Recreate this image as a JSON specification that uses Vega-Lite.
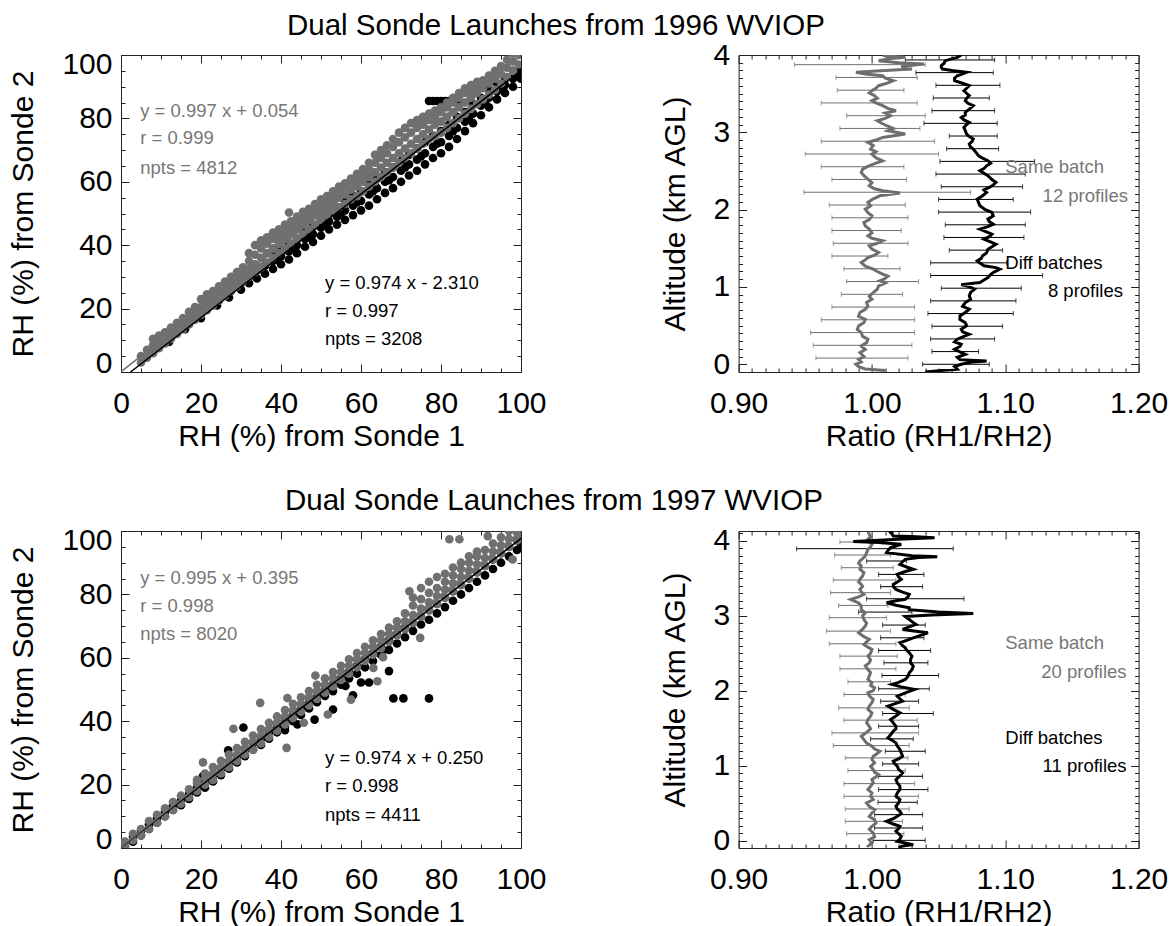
{
"$schema": "https://vega.github.io/schema/vega-lite/v6.json",
"background": "white",
"padding": {"left": 8, "top": 10, "right": 5, "bottom": 2},
"config": {
  "font": "Liberation Sans",
  "view": {"stroke": "#222222", "strokeWidth": 1},
  "axis": {"domain": false, "grid": false, "tickColor": "#222222", "tickWidth": 1, "labelFontSize": 30, "titleFontSize": 30, "titleFontWeight": "normal", "labelColor": "#000000", "titleColor": "#000000", "labelOverlap": false, "labelFlush": false, "labelBound": false},
  "title": {"fontSize": 29.5, "fontWeight": "normal", "color": "#000000"}
},
"datasets": {
"d96": [
{"rh1":8,"rh2":6},{"rh1":8,"rh2":7.5},{"rh1":12,"rh2":9.5},{"rh1":12,"rh2":11},{"rh1":16,"rh2":13.5},{"rh1":16,"rh2":15},{"rh1":20,"rh2":17},{"rh1":20,"rh2":18.5},{"rh1":24,"rh2":21},{"rh1":24,"rh2":22.5},{"rh1":27,"rh2":23.5},{"rh1":27,"rh2":25.5},{"rh1":30,"rh2":26},{"rh1":30,"rh2":28.5},{"rh1":32,"rh2":28},{"rh1":32,"rh2":30},{"rh1":34,"rh2":29.5},{"rh1":34,"rh2":32},{"rh1":36,"rh2":31},{"rh1":36,"rh2":33.5},
{"rh1":38,"rh2":32.5},{"rh1":38,"rh2":35},{"rh1":38,"rh2":37},{"rh1":40,"rh2":34},{"rh1":40,"rh2":36.5},{"rh1":40,"rh2":39},{"rh1":42,"rh2":35.5},{"rh1":42,"rh2":38},{"rh1":42,"rh2":40.5},{"rh1":44,"rh2":37.5},{"rh1":44,"rh2":40},{"rh1":44,"rh2":42},{"rh1":46,"rh2":39.5},{"rh1":46,"rh2":42},{"rh1":46,"rh2":44},{"rh1":48,"rh2":41},{"rh1":48,"rh2":43.5},{"rh1":48,"rh2":46},
{"rh1":50,"rh2":43},{"rh1":50,"rh2":45.5},{"rh1":50,"rh2":48},{"rh1":52,"rh2":45},{"rh1":52,"rh2":47.5},{"rh1":52,"rh2":50},{"rh1":54,"rh2":46.5},{"rh1":54,"rh2":49},{"rh1":54,"rh2":52},{"rh1":56,"rh2":48},{"rh1":56,"rh2":51},{"rh1":56,"rh2":54},{"rh1":58,"rh2":49.5},{"rh1":58,"rh2":52.5},{"rh1":58,"rh2":55.5},
{"rh1":60,"rh2":51},{"rh1":60,"rh2":54},{"rh1":60,"rh2":57},{"rh1":62,"rh2":52.5},{"rh1":62,"rh2":56},{"rh1":62,"rh2":59},{"rh1":64,"rh2":54.5},{"rh1":64,"rh2":58},{"rh1":64,"rh2":61},{"rh1":66,"rh2":56.5},{"rh1":66,"rh2":60},{"rh1":66,"rh2":63},{"rh1":68,"rh2":58},{"rh1":68,"rh2":61.5},{"rh1":68,"rh2":64.5},
{"rh1":70,"rh2":60},{"rh1":70,"rh2":63.5},{"rh1":70,"rh2":66.5},{"rh1":72,"rh2":62},{"rh1":72,"rh2":65.5},{"rh1":72,"rh2":68.5},{"rh1":74,"rh2":63.5},{"rh1":74,"rh2":67},{"rh1":74,"rh2":70.5},{"rh1":76,"rh2":65.5},{"rh1":76,"rh2":69},{"rh1":76,"rh2":72.5},
{"rh1":78,"rh2":67.5},{"rh1":78,"rh2":71},{"rh1":78,"rh2":74.5},{"rh1":78,"rh2":85.5},{"rh1":80,"rh2":69},{"rh1":80,"rh2":72.5},{"rh1":80,"rh2":76},{"rh1":80,"rh2":85.5},{"rh1":82,"rh2":71},{"rh1":82,"rh2":74.5},{"rh1":82,"rh2":78},{"rh1":82,"rh2":85.5},{"rh1":84,"rh2":73.5},{"rh1":84,"rh2":77},{"rh1":84,"rh2":80.5},{"rh1":84,"rh2":85.5},
{"rh1":77,"rh2":85.5},{"rh1":79,"rh2":85.5},{"rh1":81,"rh2":85.5},{"rh1":83,"rh2":85.5},
{"rh1":86,"rh2":76},{"rh1":86,"rh2":79},{"rh1":86,"rh2":82},{"rh1":88,"rh2":78.5},{"rh1":88,"rh2":81.5},{"rh1":88,"rh2":84.5},{"rh1":90,"rh2":81},{"rh1":90,"rh2":84},{"rh1":90,"rh2":86.5},{"rh1":92,"rh2":83.5},{"rh1":92,"rh2":86.5},{"rh1":92,"rh2":89},{"rh1":94,"rh2":86},{"rh1":94,"rh2":88.5},{"rh1":94,"rh2":91},
{"rh1":96,"rh2":88},{"rh1":96,"rh2":90.5},{"rh1":96,"rh2":92.5},{"rh1":98,"rh2":90},{"rh1":98,"rh2":92.5},{"rh1":98,"rh2":95},{"rh1":100,"rh2":92.5},{"rh1":100,"rh2":94.5},{"rh1":100,"rh2":96},
{"rh1":39,"rh2":35.5},{"rh1":43,"rh2":39},{"rh1":47,"rh2":42.5},{"rh1":51,"rh2":46.5},{"rh1":55,"rh2":50},{"rh1":59,"rh2":53.5},{"rh1":63,"rh2":57},{"rh1":67,"rh2":60.5},{"rh1":71,"rh2":64.5},{"rh1":75,"rh2":68},{"rh1":79,"rh2":72},{"rh1":83,"rh2":76},{"rh1":87,"rh2":80.5},{"rh1":91,"rh2":85},{"rh1":95,"rh2":89.5},{"rh1":99,"rh2":93.5}
],
"s96": [
{"rh1":5,"rh2":3},{"rh1":5,"rh2":5},{"rh1":6.5,"rh2":4.5},{"rh1":6.5,"rh2":7},{"rh1":8,"rh2":6},{"rh1":8,"rh2":8.5},{"rh1":8,"rh2":10.5},{"rh1":9.5,"rh2":7.5},{"rh1":9.5,"rh2":9.5},{"rh1":9.5,"rh2":11.5},{"rh1":11,"rh2":9},{"rh1":11,"rh2":11},{"rh1":11,"rh2":12.5},{"rh1":12.5,"rh2":10.5},{"rh1":12.5,"rh2":12.5},{"rh1":12.5,"rh2":14},
{"rh1":14,"rh2":12},{"rh1":14,"rh2":14},{"rh1":14,"rh2":15.5},{"rh1":15.5,"rh2":13.5},{"rh1":15.5,"rh2":15.5},{"rh1":15.5,"rh2":17},{"rh1":17,"rh2":15},{"rh1":17,"rh2":17},{"rh1":17,"rh2":19},{"rh1":18.5,"rh2":16.5},{"rh1":18.5,"rh2":18.5},{"rh1":18.5,"rh2":20.5},{"rh1":20,"rh2":18},{"rh1":20,"rh2":20.5},{"rh1":20,"rh2":23},
{"rh1":21.5,"rh2":19.5},{"rh1":21.5,"rh2":22},{"rh1":21.5,"rh2":24.5},{"rh1":23,"rh2":21},{"rh1":23,"rh2":23.5},{"rh1":23,"rh2":25.5},{"rh1":24.5,"rh2":22.5},{"rh1":24.5,"rh2":25},{"rh1":24.5,"rh2":27},{"rh1":26,"rh2":24},{"rh1":26,"rh2":26.5},{"rh1":26,"rh2":28.5},{"rh1":27.5,"rh2":25.5},{"rh1":27.5,"rh2":28},{"rh1":27.5,"rh2":30},
{"rh1":29,"rh2":27},{"rh1":29,"rh2":29.5},{"rh1":29,"rh2":31.5},{"rh1":30.5,"rh2":28.5},{"rh1":30.5,"rh2":31},{"rh1":30.5,"rh2":33},{"rh1":32,"rh2":30},{"rh1":32,"rh2":32.5},{"rh1":32,"rh2":35},{"rh1":32,"rh2":37.5},{"rh1":33.5,"rh2":31.5},{"rh1":33.5,"rh2":34},{"rh1":33.5,"rh2":37},{"rh1":33.5,"rh2":40},
{"rh1":35,"rh2":33},{"rh1":35,"rh2":36},{"rh1":35,"rh2":39},{"rh1":35,"rh2":41.5},{"rh1":36.5,"rh2":34.5},{"rh1":36.5,"rh2":37.5},{"rh1":36.5,"rh2":40.5},{"rh1":36.5,"rh2":42.5},{"rh1":38,"rh2":36},{"rh1":38,"rh2":39},{"rh1":38,"rh2":42},{"rh1":38,"rh2":44},
{"rh1":39.5,"rh2":37.5},{"rh1":39.5,"rh2":40.5},{"rh1":39.5,"rh2":43},{"rh1":39.5,"rh2":45},{"rh1":41,"rh2":39},{"rh1":41,"rh2":42},{"rh1":41,"rh2":44.5},{"rh1":41,"rh2":46.5},{"rh1":42.5,"rh2":40.5},{"rh1":42.5,"rh2":43.5},{"rh1":42.5,"rh2":46},{"rh1":42.5,"rh2":47.5},
{"rh1":44,"rh2":42},{"rh1":44,"rh2":45},{"rh1":44,"rh2":47.5},{"rh1":44,"rh2":49},{"rh1":45.5,"rh2":43.5},{"rh1":45.5,"rh2":46.5},{"rh1":45.5,"rh2":49},{"rh1":45.5,"rh2":50.5},{"rh1":47,"rh2":45},{"rh1":47,"rh2":48},{"rh1":47,"rh2":50.5},{"rh1":47,"rh2":51.5},
{"rh1":48.5,"rh2":46.5},{"rh1":48.5,"rh2":49.5},{"rh1":48.5,"rh2":52},{"rh1":48.5,"rh2":53},{"rh1":50,"rh2":48},{"rh1":50,"rh2":50.5},{"rh1":50,"rh2":53},{"rh1":50,"rh2":54.5},{"rh1":51.5,"rh2":49.5},{"rh1":51.5,"rh2":52},{"rh1":51.5,"rh2":54.5},{"rh1":51.5,"rh2":55.5},
{"rh1":53,"rh2":51},{"rh1":53,"rh2":53.5},{"rh1":53,"rh2":56},{"rh1":53,"rh2":57},{"rh1":54.5,"rh2":52},{"rh1":54.5,"rh2":55},{"rh1":54.5,"rh2":57.5},{"rh1":54.5,"rh2":58.5},{"rh1":56,"rh2":53},{"rh1":56,"rh2":56},{"rh1":56,"rh2":58.5},{"rh1":56,"rh2":59.5},
{"rh1":57.5,"rh2":54.5},{"rh1":57.5,"rh2":57.5},{"rh1":57.5,"rh2":60},{"rh1":57.5,"rh2":61},{"rh1":59,"rh2":55.5},{"rh1":59,"rh2":58.5},{"rh1":59,"rh2":61},{"rh1":59,"rh2":62.5},{"rh1":60.5,"rh2":57},{"rh1":60.5,"rh2":60},{"rh1":60.5,"rh2":62.5},{"rh1":60.5,"rh2":64},
{"rh1":62,"rh2":58.5},{"rh1":62,"rh2":61.5},{"rh1":62,"rh2":64},{"rh1":62,"rh2":66},{"rh1":63.5,"rh2":60},{"rh1":63.5,"rh2":63},{"rh1":63.5,"rh2":66},{"rh1":63.5,"rh2":68.5},{"rh1":65,"rh2":61.5},{"rh1":65,"rh2":64.5},{"rh1":65,"rh2":67.5},{"rh1":65,"rh2":70},
{"rh1":66.5,"rh2":63},{"rh1":66.5,"rh2":66},{"rh1":66.5,"rh2":69},{"rh1":66.5,"rh2":71.5},{"rh1":68,"rh2":64.5},{"rh1":68,"rh2":67.5},{"rh1":68,"rh2":71},{"rh1":68,"rh2":73.5},{"rh1":69.5,"rh2":66},{"rh1":69.5,"rh2":69},{"rh1":69.5,"rh2":72.5},{"rh1":69.5,"rh2":75.5},
{"rh1":71,"rh2":67.5},{"rh1":71,"rh2":70.5},{"rh1":71,"rh2":74},{"rh1":71,"rh2":77},{"rh1":72.5,"rh2":69},{"rh1":72.5,"rh2":72},{"rh1":72.5,"rh2":75.5},{"rh1":72.5,"rh2":78.5},{"rh1":74,"rh2":70.5},{"rh1":74,"rh2":73.5},{"rh1":74,"rh2":77},{"rh1":74,"rh2":79.5},
{"rh1":75.5,"rh2":72},{"rh1":75.5,"rh2":75},{"rh1":75.5,"rh2":78},{"rh1":75.5,"rh2":80.5},{"rh1":77,"rh2":73.5},{"rh1":77,"rh2":76.5},{"rh1":77,"rh2":79.5},{"rh1":77,"rh2":81.5},{"rh1":78.5,"rh2":74.5},{"rh1":78.5,"rh2":78},{"rh1":78.5,"rh2":80.5},{"rh1":78.5,"rh2":82.5},
{"rh1":80,"rh2":75.5},{"rh1":80,"rh2":79},{"rh1":80,"rh2":82},{"rh1":80,"rh2":83.5},{"rh1":81.5,"rh2":77},{"rh1":81.5,"rh2":80.5},{"rh1":81.5,"rh2":83.5},{"rh1":81.5,"rh2":85},{"rh1":83,"rh2":78.5},{"rh1":83,"rh2":82},{"rh1":83,"rh2":85},{"rh1":83,"rh2":86.5},
{"rh1":84.5,"rh2":80},{"rh1":84.5,"rh2":83.5},{"rh1":84.5,"rh2":86.5},{"rh1":84.5,"rh2":88},{"rh1":86,"rh2":81.5},{"rh1":86,"rh2":85},{"rh1":86,"rh2":88},{"rh1":86,"rh2":89.5},{"rh1":87.5,"rh2":83},{"rh1":87.5,"rh2":86.5},{"rh1":87.5,"rh2":89},{"rh1":87.5,"rh2":90.5},
{"rh1":89,"rh2":84.5},{"rh1":89,"rh2":88},{"rh1":89,"rh2":90.5},{"rh1":89,"rh2":91.5},{"rh1":90.5,"rh2":86},{"rh1":90.5,"rh2":89.5},{"rh1":90.5,"rh2":92},{"rh1":92,"rh2":87.5},{"rh1":92,"rh2":91},{"rh1":92,"rh2":93.5},{"rh1":93.5,"rh2":89},{"rh1":93.5,"rh2":92.5},{"rh1":93.5,"rh2":95},
{"rh1":95,"rh2":91},{"rh1":95,"rh2":94},{"rh1":95,"rh2":96.5},{"rh1":96.5,"rh2":93},{"rh1":96.5,"rh2":96},{"rh1":96.5,"rh2":98.5},{"rh1":98,"rh2":95},{"rh1":98,"rh2":98},{"rh1":98,"rh2":100.5},{"rh1":98,"rh2":103},{"rh1":99.5,"rh2":97},{"rh1":99.5,"rh2":100},{"rh1":99.5,"rh2":102.5},{"rh1":99.5,"rh2":105},
{"rh1":42,"rh2":50.3}
],
"fd96": [{"rh1":2.372,"rh2":0},{"rh1":100,"rh2":95.09}],
"fs96": [{"rh1":0,"rh2":0.054},{"rh1":100,"rh2":99.754}],
"t96": [
{"rh1":4.8,"rh2":82.4,"label":"y = 0.997 x + 0.054","c":"s"},{"rh1":4.8,"rh2":73.7,"label":"r = 0.999","c":"s"},{"rh1":4.8,"rh2":64.5,"label":"npts = 4812","c":"s"},
{"rh1":51,"rh2":28.2,"label":"y = 0.974 x - 2.310","c":"d"},{"rh1":51,"rh2":19.3,"label":"r = 0.997","c":"d"},{"rh1":51,"rh2":10.5,"label":"npts = 3208","c":"d"}
],
"d97": [
{"rh1":1,"rh2":0.5},{"rh1":1,"rh2":1.5},{"rh1":3,"rh2":2},{"rh1":3,"rh2":3.5},{"rh1":5,"rh2":4},{"rh1":5,"rh2":5.5},{"rh1":7,"rh2":6},{"rh1":7,"rh2":7.5},{"rh1":9,"rh2":8},{"rh1":9,"rh2":9.5},{"rh1":11,"rh2":10},{"rh1":11,"rh2":11.5},{"rh1":13,"rh2":12},{"rh1":13,"rh2":13.5},{"rh1":15,"rh2":13.5},{"rh1":15,"rh2":15},
{"rh1":17,"rh2":15.5},{"rh1":17,"rh2":17},{"rh1":19,"rh2":17.5},{"rh1":19,"rh2":19},{"rh1":21,"rh2":19},{"rh1":21,"rh2":21},{"rh1":23,"rh2":21},{"rh1":23,"rh2":23},{"rh1":25,"rh2":23},{"rh1":25,"rh2":25},{"rh1":27,"rh2":25},{"rh1":27,"rh2":27},{"rh1":29,"rh2":27},{"rh1":29,"rh2":29},
{"rh1":31,"rh2":29},{"rh1":31,"rh2":31},{"rh1":33,"rh2":31},{"rh1":33,"rh2":33},{"rh1":35,"rh2":32.5},{"rh1":35,"rh2":34.5},{"rh1":37,"rh2":34.5},{"rh1":37,"rh2":36.5},{"rh1":39,"rh2":36.5},{"rh1":39,"rh2":38.5},{"rh1":41,"rh2":38.5},{"rh1":41,"rh2":40.5},{"rh1":43,"rh2":40},{"rh1":43,"rh2":42},
{"rh1":45,"rh2":42},{"rh1":45,"rh2":44},{"rh1":47,"rh2":44},{"rh1":47,"rh2":46},{"rh1":49,"rh2":46},{"rh1":49,"rh2":48},{"rh1":51,"rh2":48},{"rh1":51,"rh2":50},{"rh1":53,"rh2":49.5},{"rh1":53,"rh2":51.5},{"rh1":55,"rh2":51.5},{"rh1":55,"rh2":53.5},{"rh1":57,"rh2":53.5},{"rh1":57,"rh2":55.5},
{"rh1":59,"rh2":55},{"rh1":59,"rh2":57.5},{"rh1":61,"rh2":57},{"rh1":61,"rh2":59.5},{"rh1":63,"rh2":59},{"rh1":63,"rh2":61.5},{"rh1":65,"rh2":61},{"rh1":65,"rh2":63.5},{"rh1":67,"rh2":62.5},{"rh1":67,"rh2":65.5},{"rh1":69,"rh2":64.5},{"rh1":69,"rh2":67.5},
{"rh1":71,"rh2":66.5},{"rh1":71,"rh2":69.5},{"rh1":73,"rh2":68.5},{"rh1":73,"rh2":71},{"rh1":75,"rh2":70.5},{"rh1":75,"rh2":73},{"rh1":77,"rh2":72},{"rh1":77,"rh2":75},{"rh1":79,"rh2":74},{"rh1":79,"rh2":77},{"rh1":81,"rh2":76},{"rh1":81,"rh2":79},
{"rh1":83,"rh2":78},{"rh1":83,"rh2":81},{"rh1":85,"rh2":80},{"rh1":85,"rh2":83},{"rh1":87,"rh2":82},{"rh1":87,"rh2":85},{"rh1":89,"rh2":84},{"rh1":89,"rh2":87},{"rh1":91,"rh2":86},{"rh1":91,"rh2":89},{"rh1":93,"rh2":88},{"rh1":93,"rh2":91},
{"rh1":95,"rh2":90},{"rh1":95,"rh2":93},{"rh1":97,"rh2":92},{"rh1":97,"rh2":95},{"rh1":99,"rh2":94},{"rh1":99,"rh2":97},{"rh1":100,"rh2":95},{"rh1":100,"rh2":98},
{"rh1":68.1,"rh2":47.2},{"rh1":70.6,"rh2":47.2},{"rh1":77,"rh2":47.2},{"rh1":67,"rh2":55.8},{"rh1":65.5,"rh2":62.4},{"rh1":62,"rh2":52.2},{"rh1":60,"rh2":52.2},{"rh1":58,"rh2":48.2},{"rh1":56.1,"rh2":51.1},{"rh1":53,"rh2":43.7},{"rh1":48.4,"rh2":40.5},{"rh1":44.1,"rh2":39},{"rh1":41,"rh2":37.2},{"rh1":30.6,"rh2":38},{"rh1":26.8,"rh2":30.8},{"rh1":20.5,"rh2":22.7}
],
"s97": [
{"rh1":1,"rh2":0.5},{"rh1":1,"rh2":2},{"rh1":3,"rh2":2.5},{"rh1":3,"rh2":4.5},{"rh1":5,"rh2":4},{"rh1":5,"rh2":6},{"rh1":7,"rh2":6},{"rh1":7,"rh2":8.5},{"rh1":9,"rh2":8},{"rh1":9,"rh2":10.5},{"rh1":11,"rh2":10},{"rh1":11,"rh2":12.5},{"rh1":13,"rh2":12},{"rh1":13,"rh2":14.5},{"rh1":15,"rh2":14},{"rh1":15,"rh2":16.5},{"rh1":17,"rh2":16},{"rh1":17,"rh2":18.5},
{"rh1":19,"rh2":18},{"rh1":19,"rh2":20.5},{"rh1":19,"rh2":21.5},{"rh1":21,"rh2":20},{"rh1":21,"rh2":22},{"rh1":21,"rh2":23.5},{"rh1":23,"rh2":21.5},{"rh1":23,"rh2":23.5},{"rh1":23,"rh2":25.5},{"rh1":25,"rh2":23.5},{"rh1":25,"rh2":25.5},{"rh1":25,"rh2":27.5},{"rh1":27,"rh2":25.5},{"rh1":27,"rh2":27.5},{"rh1":27,"rh2":29.5},
{"rh1":29,"rh2":27.5},{"rh1":29,"rh2":29.5},{"rh1":29,"rh2":31.5},{"rh1":31,"rh2":29.5},{"rh1":31,"rh2":31.5},{"rh1":31,"rh2":33.5},{"rh1":33,"rh2":31},{"rh1":33,"rh2":33.5},{"rh1":33,"rh2":35.5},{"rh1":35,"rh2":33},{"rh1":35,"rh2":35.5},{"rh1":35,"rh2":37.5},{"rh1":37,"rh2":35},{"rh1":37,"rh2":37.5},{"rh1":37,"rh2":39.5},
{"rh1":39,"rh2":37},{"rh1":39,"rh2":39.5},{"rh1":39,"rh2":41.5},{"rh1":41,"rh2":39},{"rh1":41,"rh2":41.5},{"rh1":41,"rh2":43.5},{"rh1":43,"rh2":41},{"rh1":43,"rh2":43.5},{"rh1":43,"rh2":45.5},{"rh1":45,"rh2":43},{"rh1":45,"rh2":45.5},{"rh1":45,"rh2":47.5},{"rh1":47,"rh2":45},{"rh1":47,"rh2":47.5},{"rh1":47,"rh2":49.5},
{"rh1":49,"rh2":47},{"rh1":49,"rh2":49.5},{"rh1":49,"rh2":51.5},{"rh1":51,"rh2":49},{"rh1":51,"rh2":51.5},{"rh1":51,"rh2":53.5},{"rh1":53,"rh2":51},{"rh1":53,"rh2":53.5},{"rh1":53,"rh2":55.5},{"rh1":55,"rh2":53},{"rh1":55,"rh2":55.5},{"rh1":55,"rh2":57.5},{"rh1":57,"rh2":55},{"rh1":57,"rh2":57.5},{"rh1":57,"rh2":59.5},
{"rh1":59,"rh2":57},{"rh1":59,"rh2":59.5},{"rh1":59,"rh2":61.5},{"rh1":61,"rh2":59},{"rh1":61,"rh2":61.5},{"rh1":61,"rh2":63.5},{"rh1":63,"rh2":61},{"rh1":63,"rh2":63.5},{"rh1":63,"rh2":65.5},{"rh1":65,"rh2":63},{"rh1":65,"rh2":65.5},{"rh1":65,"rh2":67.5},{"rh1":67,"rh2":65},{"rh1":67,"rh2":67.5},{"rh1":67,"rh2":69.5},
{"rh1":69,"rh2":67},{"rh1":69,"rh2":69.5},{"rh1":69,"rh2":71.5},{"rh1":71,"rh2":69},{"rh1":71,"rh2":71.5},{"rh1":71,"rh2":74},{"rh1":73,"rh2":71},{"rh1":73,"rh2":73.5},{"rh1":73,"rh2":76.5},{"rh1":73,"rh2":79},{"rh1":75,"rh2":73},{"rh1":75,"rh2":75.5},{"rh1":75,"rh2":78.5},{"rh1":75,"rh2":82},
{"rh1":77,"rh2":75},{"rh1":77,"rh2":77.5},{"rh1":77,"rh2":80.5},{"rh1":77,"rh2":84},{"rh1":79,"rh2":77},{"rh1":79,"rh2":79.5},{"rh1":79,"rh2":82},{"rh1":79,"rh2":85.5},{"rh1":81,"rh2":79},{"rh1":81,"rh2":81.5},{"rh1":81,"rh2":84},{"rh1":81,"rh2":86.5},
{"rh1":83,"rh2":81},{"rh1":83,"rh2":83.5},{"rh1":83,"rh2":86},{"rh1":83,"rh2":88.5},{"rh1":85,"rh2":83},{"rh1":85,"rh2":85.5},{"rh1":85,"rh2":88},{"rh1":85,"rh2":90},{"rh1":87,"rh2":85},{"rh1":87,"rh2":87.5},{"rh1":87,"rh2":90},{"rh1":87,"rh2":92},
{"rh1":89,"rh2":87},{"rh1":89,"rh2":89.5},{"rh1":89,"rh2":92},{"rh1":89,"rh2":93.5},{"rh1":91,"rh2":89},{"rh1":91,"rh2":91.5},{"rh1":91,"rh2":94},{"rh1":93,"rh2":91},{"rh1":93,"rh2":93.5},{"rh1":93,"rh2":96},{"rh1":95,"rh2":93},{"rh1":95,"rh2":95.5},{"rh1":95,"rh2":98},
{"rh1":97,"rh2":95},{"rh1":97,"rh2":97.5},{"rh1":97,"rh2":100},{"rh1":99,"rh2":97},{"rh1":99,"rh2":99.5},{"rh1":99,"rh2":102},{"rh1":100,"rh2":98},{"rh1":100,"rh2":101},{"rh1":100,"rh2":104},
{"rh1":20.5,"rh2":27},{"rh1":28.1,"rh2":37.6},{"rh1":34.8,"rh2":45.8},{"rh1":41.4,"rh2":31.6},{"rh1":41.6,"rh2":47.3},{"rh1":48.6,"rh2":54.4},{"rh1":45.7,"rh2":39.5},{"rh1":51.7,"rh2":42.1},{"rh1":57.5,"rh2":46.8},{"rh1":64.1,"rh2":52.6},{"rh1":63.1,"rh2":56.8},{"rh1":65.5,"rh2":60.2},{"rh1":74.8,"rh2":66.3},{"rh1":72.1,"rh2":81},{"rh1":82.1,"rh2":97.4},{"rh1":84.6,"rh2":97.4},{"rh1":91.7,"rh2":98.4},{"rh1":97.9,"rh2":91}
],
"fd97": [{"rh1":0,"rh2":0.25},{"rh1":100,"rh2":97.65}],
"fs97": [{"rh1":0,"rh2":0.395},{"rh1":100,"rh2":99.895}],
"t97": [
{"rh1":4.8,"rh2":85.3,"label":"y = 0.995 x + 0.395","c":"s"},{"rh1":4.8,"rh2":76.3,"label":"r = 0.998","c":"s"},{"rh1":4.8,"rh2":67.4,"label":"npts = 8020","c":"s"},
{"rh1":51,"rh2":28.4,"label":"y = 0.974 x + 0.250","c":"d"},{"rh1":51,"rh2":19.5,"label":"r = 0.998","c":"d"},{"rh1":51,"rh2":10.5,"label":"npts = 4411","c":"d"}
],
"ebs96": [
{"alt":0.08,"lo":0.958,"hi":1.027},{"alt":0.245,"lo":0.956,"hi":1.03},{"alt":0.41,"lo":0.954,"hi":1.032},{"alt":0.575,"lo":0.962,"hi":1.032},{"alt":0.74,"lo":0.97,"hi":1.032},{"alt":0.905,"lo":0.977,"hi":1.023},{"alt":1.07,"lo":0.981,"hi":1.035},{"alt":1.235,"lo":0.979,"hi":1.021},
{"alt":1.4,"lo":0.97,"hi":1.012},{"alt":1.565,"lo":0.971,"hi":1.027},{"alt":1.73,"lo":0.97,"hi":1.022},{"alt":1.895,"lo":0.97,"hi":1.027},{"alt":2.06,"lo":0.968,"hi":1.025},{"alt":2.225,"lo":0.949,"hi":1.074},{"alt":2.39,"lo":0.97,"hi":1.026},{"alt":2.555,"lo":0.962,"hi":1.024},
{"alt":2.72,"lo":0.95,"hi":1.05},{"alt":2.885,"lo":0.962,"hi":1.047},{"alt":3.05,"lo":0.976,"hi":1.036},{"alt":3.215,"lo":0.981,"hi":1.04},{"alt":3.38,"lo":0.962,"hi":1.034},{"alt":3.545,"lo":0.974,"hi":1.024},{"alt":3.71,"lo":0.973,"hi":1.034},{"alt":3.875,"lo":0.942,"hi":1.04}
],
"ebd96": [
{"alt":0.0,"lo":1.038,"hi":1.088},{"alt":0.164,"lo":1.045,"hi":1.08},{"alt":0.328,"lo":1.044,"hi":1.092},{"alt":0.492,"lo":1.045,"hi":1.098},{"alt":0.656,"lo":1.042,"hi":1.106},{"alt":0.82,"lo":1.044,"hi":1.108},{"alt":0.984,"lo":1.052,"hi":1.112},{"alt":1.148,"lo":1.044,"hi":1.128},
{"alt":1.312,"lo":1.044,"hi":1.101},{"alt":1.476,"lo":1.058,"hi":1.098},{"alt":1.64,"lo":1.054,"hi":1.114},{"alt":1.804,"lo":1.055,"hi":1.115},{"alt":1.968,"lo":1.05,"hi":1.119},{"alt":2.132,"lo":1.05,"hi":1.106},{"alt":2.296,"lo":1.052,"hi":1.113},{"alt":2.46,"lo":1.048,"hi":1.115},
{"alt":2.624,"lo":1.051,"hi":1.122},{"alt":2.788,"lo":1.056,"hi":1.095},{"alt":2.952,"lo":1.058,"hi":1.094},{"alt":3.116,"lo":1.039,"hi":1.094},{"alt":3.28,"lo":1.045,"hi":1.092},{"alt":3.444,"lo":1.046,"hi":1.088},{"alt":3.608,"lo":1.048,"hi":1.096},{"alt":3.772,"lo":1.033,"hi":1.091},{"alt":3.936,"lo":1.025,"hi":1.092}
],
"ls96": [
{"alt":-0.095,"ratio":1.005},{"alt":-0.08,"ratio":1.01},{"alt":-0.06,"ratio":0.995},{"alt":-0.03,"ratio":0.99},{"alt":0.0,"ratio":0.988},{"alt":0.03,"ratio":0.992},{"alt":0.064,"ratio":0.99},{"alt":0.1,"ratio":0.994},{"alt":0.151,"ratio":0.991},{"alt":0.19,"ratio":0.995},{"alt":0.237,"ratio":0.992},{"alt":0.28,"ratio":0.996},
{"alt":0.324,"ratio":0.997},{"alt":0.36,"ratio":0.993},{"alt":0.41,"ratio":0.992},{"alt":0.45,"ratio":0.989},{"alt":0.496,"ratio":0.99},{"alt":0.54,"ratio":0.994},{"alt":0.583,"ratio":0.995},{"alt":0.62,"ratio":0.99},{"alt":0.669,"ratio":0.991},{"alt":0.71,"ratio":0.995},{"alt":0.755,"ratio":0.997},{"alt":0.8,"ratio":0.996},
{"alt":0.841,"ratio":1.0},{"alt":0.88,"ratio":0.998},{"alt":0.928,"ratio":1.001},{"alt":0.97,"ratio":1.004},{"alt":1.014,"ratio":1.005},{"alt":1.05,"ratio":1.01},{"alt":1.08,"ratio":1.006},{"alt":1.1,"ratio":1.009},{"alt":1.14,"ratio":1.012},{"alt":1.165,"ratio":1.008},{"alt":1.2,"ratio":1.004},{"alt":1.23,"ratio":1.001},
{"alt":1.27,"ratio":0.995},{"alt":1.316,"ratio":0.992},{"alt":1.35,"ratio":0.995},{"alt":1.381,"ratio":0.997},{"alt":1.41,"ratio":1.002},{"alt":1.446,"ratio":1.005},{"alt":1.49,"ratio":1.0},{"alt":1.532,"ratio":0.998},{"alt":1.565,"ratio":1.004},{"alt":1.597,"ratio":1.008},{"alt":1.63,"ratio":1.0},{"alt":1.661,"ratio":0.997},
{"alt":1.7,"ratio":1.0},{"alt":1.748,"ratio":0.998},{"alt":1.79,"ratio":0.995},{"alt":1.834,"ratio":0.994},{"alt":1.87,"ratio":0.998},{"alt":1.92,"ratio":1.0},{"alt":1.96,"ratio":0.997},{"alt":2.006,"ratio":0.995},{"alt":2.05,"ratio":0.999},{"alt":2.093,"ratio":0.997},{"alt":2.14,"ratio":1.001},{"alt":2.179,"ratio":1.006},
{"alt":2.214,"ratio":1.021},{"alt":2.244,"ratio":1.008},{"alt":2.27,"ratio":1.002},{"alt":2.309,"ratio":0.998},{"alt":2.35,"ratio":1.0},{"alt":2.395,"ratio":0.997},{"alt":2.44,"ratio":0.994},{"alt":2.481,"ratio":0.992},{"alt":2.524,"ratio":0.993},{"alt":2.56,"ratio":0.997},{"alt":2.589,"ratio":1.001},{"alt":2.632,"ratio":1.008},
{"alt":2.67,"ratio":1.003},{"alt":2.718,"ratio":1.0},{"alt":2.75,"ratio":1.003},{"alt":2.783,"ratio":0.999},{"alt":2.83,"ratio":1.001},{"alt":2.869,"ratio":0.997},{"alt":2.9,"ratio":1.003},{"alt":2.934,"ratio":1.008},{"alt":2.977,"ratio":1.025},{"alt":3.0,"ratio":1.018},{"alt":3.02,"ratio":1.012},{"alt":3.05,"ratio":1.016},
{"alt":3.085,"ratio":1.011},{"alt":3.12,"ratio":1.007},{"alt":3.15,"ratio":1.004},{"alt":3.18,"ratio":1.01},{"alt":3.215,"ratio":1.014},{"alt":3.25,"ratio":1.01},{"alt":3.279,"ratio":1.018},{"alt":3.31,"ratio":1.012},{"alt":3.344,"ratio":1.008},{"alt":3.38,"ratio":1.003},{"alt":3.409,"ratio":1.0},{"alt":3.44,"ratio":1.004},
{"alt":3.474,"ratio":1.002},{"alt":3.51,"ratio":0.998},{"alt":3.538,"ratio":1.0},{"alt":3.57,"ratio":1.003},{"alt":3.603,"ratio":1.005},{"alt":3.64,"ratio":1.012},{"alt":3.668,"ratio":1.016},{"alt":3.7,"ratio":1.01},{"alt":3.732,"ratio":1.008},{"alt":3.755,"ratio":0.995},{"alt":3.776,"ratio":0.988},{"alt":3.8,"ratio":1.01},
{"alt":3.819,"ratio":1.03},{"alt":3.85,"ratio":1.022},{"alt":3.884,"ratio":1.039},{"alt":3.9,"ratio":1.02},{"alt":3.927,"ratio":1.005},{"alt":3.95,"ratio":1.012},{"alt":3.97,"ratio":1.025},{"alt":3.99,"ratio":1.01},{"alt":4.0,"ratio":1.008}
],
"ld96": [
{"alt":-0.099,"ratio":1.04},{"alt":-0.08,"ratio":1.052},{"alt":-0.065,"ratio":1.064},{"alt":-0.03,"ratio":1.062},{"alt":0.0,"ratio":1.067},{"alt":0.03,"ratio":1.075},{"alt":0.043,"ratio":1.086},{"alt":0.06,"ratio":1.066},{"alt":0.09,"ratio":1.064},{"alt":0.129,"ratio":1.07},{"alt":0.16,"ratio":1.066},{"alt":0.194,"ratio":1.062},
{"alt":0.23,"ratio":1.066},{"alt":0.259,"ratio":1.067},{"alt":0.29,"ratio":1.062},{"alt":0.324,"ratio":1.064},{"alt":0.36,"ratio":1.069},{"alt":0.388,"ratio":1.073},{"alt":0.42,"ratio":1.068},{"alt":0.453,"ratio":1.067},{"alt":0.5,"ratio":1.071},{"alt":0.539,"ratio":1.07},{"alt":0.58,"ratio":1.066},{"alt":0.626,"ratio":1.066},
{"alt":0.67,"ratio":1.07},{"alt":0.712,"ratio":1.073},{"alt":0.75,"ratio":1.068},{"alt":0.798,"ratio":1.07},{"alt":0.84,"ratio":1.074},{"alt":0.885,"ratio":1.073},{"alt":0.93,"ratio":1.074},{"alt":0.971,"ratio":1.077},{"alt":1.01,"ratio":1.072},{"alt":1.03,"ratio":1.067},{"alt":1.057,"ratio":1.081},{"alt":1.09,"ratio":1.084},
{"alt":1.122,"ratio":1.087},{"alt":1.16,"ratio":1.089},{"alt":1.187,"ratio":1.091},{"alt":1.23,"ratio":1.096},{"alt":1.25,"ratio":1.093},{"alt":1.273,"ratio":1.084},{"alt":1.31,"ratio":1.081},{"alt":1.338,"ratio":1.079},{"alt":1.37,"ratio":1.082},{"alt":1.402,"ratio":1.083},{"alt":1.44,"ratio":1.086},{"alt":1.489,"ratio":1.087},
{"alt":1.52,"ratio":1.09},{"alt":1.553,"ratio":1.093},{"alt":1.59,"ratio":1.088},{"alt":1.618,"ratio":1.084},{"alt":1.65,"ratio":1.088},{"alt":1.683,"ratio":1.09},{"alt":1.72,"ratio":1.085},{"alt":1.748,"ratio":1.081},{"alt":1.78,"ratio":1.087},{"alt":1.812,"ratio":1.091},{"alt":1.845,"ratio":1.088},{"alt":1.877,"ratio":1.087},
{"alt":1.92,"ratio":1.091},{"alt":1.963,"ratio":1.09},{"alt":2.0,"ratio":1.085},{"alt":2.05,"ratio":1.081},{"alt":2.09,"ratio":1.08},{"alt":2.136,"ratio":1.079},{"alt":2.18,"ratio":1.083},{"alt":2.222,"ratio":1.086},{"alt":2.255,"ratio":1.084},{"alt":2.287,"ratio":1.088},{"alt":2.32,"ratio":1.091},{"alt":2.352,"ratio":1.093},
{"alt":2.39,"ratio":1.09},{"alt":2.438,"ratio":1.087},{"alt":2.47,"ratio":1.084},{"alt":2.503,"ratio":1.081},{"alt":2.53,"ratio":1.084},{"alt":2.567,"ratio":1.086},{"alt":2.6,"ratio":1.089},{"alt":2.632,"ratio":1.087},{"alt":2.665,"ratio":1.083},{"alt":2.697,"ratio":1.08},{"alt":2.74,"ratio":1.078},{"alt":2.783,"ratio":1.076},
{"alt":2.81,"ratio":1.074},{"alt":2.848,"ratio":1.073},{"alt":2.88,"ratio":1.075},{"alt":2.913,"ratio":1.076},{"alt":2.945,"ratio":1.073},{"alt":2.977,"ratio":1.071},{"alt":3.02,"ratio":1.07},{"alt":3.064,"ratio":1.069},{"alt":3.1,"ratio":1.071},{"alt":3.128,"ratio":1.073},{"alt":3.16,"ratio":1.069},{"alt":3.193,"ratio":1.067},
{"alt":3.225,"ratio":1.07},{"alt":3.258,"ratio":1.07},{"alt":3.3,"ratio":1.073},{"alt":3.344,"ratio":1.076},{"alt":3.375,"ratio":1.072},{"alt":3.409,"ratio":1.07},{"alt":3.44,"ratio":1.071},{"alt":3.474,"ratio":1.073},{"alt":3.505,"ratio":1.071},{"alt":3.538,"ratio":1.069},{"alt":3.57,"ratio":1.071},{"alt":3.603,"ratio":1.073},
{"alt":3.635,"ratio":1.068},{"alt":3.668,"ratio":1.062},{"alt":3.7,"ratio":1.062},{"alt":3.732,"ratio":1.064},{"alt":3.755,"ratio":1.068},{"alt":3.776,"ratio":1.071},{"alt":3.8,"ratio":1.06},{"alt":3.819,"ratio":1.053},{"alt":3.84,"ratio":1.052},{"alt":3.862,"ratio":1.052},{"alt":3.89,"ratio":1.054},{"alt":3.927,"ratio":1.055},
{"alt":3.95,"ratio":1.06},{"alt":3.97,"ratio":1.064},{"alt":4.0,"ratio":1.067}
],
"pt96": [
{"ratio":1.1,"alt":2.546,"label":"Same batch","c":"s"},{"ratio":1.128,"alt":2.18,"label":"12 profiles","c":"s"},{"ratio":1.1,"alt":1.316,"label":"Diff batches","c":"d"},{"ratio":1.132,"alt":0.95,"label":"8 profiles","c":"d"}
],
"ebs97": [
{"alt":0.091,"lo":0.981,"hi":1.024},{"alt":0.256,"lo":0.98,"hi":1.023},{"alt":0.421,"lo":0.98,"hi":1.028},{"alt":0.59,"lo":0.979,"hi":1.035},{"alt":0.759,"lo":0.979,"hi":1.032},{"alt":0.933,"lo":0.982,"hi":1.025},{"alt":1.102,"lo":0.98,"hi":1.027},{"alt":1.267,"lo":0.971,"hi":1.028},
{"alt":1.436,"lo":0.97,"hi":1.035},{"alt":1.606,"lo":0.979,"hi":1.034},{"alt":1.77,"lo":0.975,"hi":1.028},{"alt":1.948,"lo":0.979,"hi":1.025},{"alt":2.118,"lo":0.982,"hi":1.014},{"alt":2.291,"lo":0.976,"hi":1.018},{"alt":2.46,"lo":0.976,"hi":1.019},{"alt":2.625,"lo":0.968,"hi":1.018},
{"alt":2.794,"lo":0.966,"hi":1.014},{"alt":2.973,"lo":0.968,"hi":1.011},{"alt":3.137,"lo":0.975,"hi":1.012},{"alt":3.307,"lo":0.969,"hi":1.014},{"alt":3.476,"lo":0.971,"hi":1.018},{"alt":3.64,"lo":0.977,"hi":1.016},{"alt":3.81,"lo":0.972,"hi":1.014},{"alt":3.983,"lo":0.976,"hi":1.008}
],
"ebd97": [
{"alt":0.002,"lo":1.001,"hi":1.04},{"alt":0.167,"lo":1.002,"hi":1.038},{"alt":0.345,"lo":1.002,"hi":1.038},{"alt":0.51,"lo":1.0045,"hi":1.034},{"alt":0.679,"lo":1.005,"hi":1.042},{"alt":0.857,"lo":1.005,"hi":1.038},{"alt":1.022,"lo":1.008,"hi":1.035},{"alt":1.191,"lo":1.01,"hi":1.04},
{"alt":1.356,"lo":0.999,"hi":1.031},{"alt":1.525,"lo":1.005,"hi":1.035},{"alt":1.695,"lo":1.008,"hi":1.046},{"alt":1.859,"lo":1.0065,"hi":1.035},{"alt":2.024,"lo":1.005,"hi":1.043},{"alt":2.202,"lo":1.0075,"hi":1.05},{"alt":2.371,"lo":1.009,"hi":1.042},{"alt":2.536,"lo":1.005,"hi":1.044},
{"alt":2.705,"lo":1.0065,"hi":1.039},{"alt":2.875,"lo":1.008,"hi":1.04},{"alt":3.048,"lo":0.99,"hi":1.03},{"alt":3.226,"lo":0.996,"hi":1.069},{"alt":3.387,"lo":1.0065,"hi":1.038},{"alt":3.551,"lo":1.005,"hi":1.039},{"alt":3.73,"lo":0.996,"hi":1.026},{"alt":3.894,"lo":0.9435,"hi":1.061}
],
"ls97": [
{"alt":-0.09,"ratio":0.997},{"alt":-0.078,"ratio":0.997},{"alt":-0.03,"ratio":1.0},{"alt":0.011,"ratio":0.998},{"alt":0.05,"ratio":1.002},{"alt":0.1,"ratio":1.001},{"alt":0.15,"ratio":0.998},{"alt":0.189,"ratio":1.0},{"alt":0.23,"ratio":1.003},{"alt":0.279,"ratio":1.002},{"alt":0.32,"ratio":0.998},{"alt":0.368,"ratio":1.0},
{"alt":0.41,"ratio":1.002},{"alt":0.457,"ratio":0.998},{"alt":0.5,"ratio":0.996},{"alt":0.546,"ratio":1.001},{"alt":0.59,"ratio":0.999},{"alt":0.635,"ratio":1.0},{"alt":0.68,"ratio":0.997},{"alt":0.724,"ratio":0.999},{"alt":0.77,"ratio":1.001},{"alt":0.813,"ratio":1.0},{"alt":0.85,"ratio":1.003},{"alt":0.88,"ratio":1.005},
{"alt":0.91,"ratio":1.002},{"alt":0.946,"ratio":1.001},{"alt":0.99,"ratio":0.999},{"alt":1.036,"ratio":1.002},{"alt":1.08,"ratio":1.0},{"alt":1.125,"ratio":1.001},{"alt":1.16,"ratio":1.004},{"alt":1.191,"ratio":1.006},{"alt":1.22,"ratio":1.002},{"alt":1.258,"ratio":1.0},{"alt":1.3,"ratio":0.996},{"alt":1.347,"ratio":0.994},
{"alt":1.392,"ratio":0.992},{"alt":1.43,"ratio":0.995},{"alt":1.459,"ratio":0.997},{"alt":1.49,"ratio":0.999},{"alt":1.525,"ratio":0.998},{"alt":1.57,"ratio":0.996},{"alt":1.614,"ratio":0.997},{"alt":1.66,"ratio":0.999},{"alt":1.703,"ratio":1.0},{"alt":1.75,"ratio":0.997},{"alt":1.793,"ratio":0.998},{"alt":1.84,"ratio":1.0},
{"alt":1.882,"ratio":1.001},{"alt":1.93,"ratio":0.998},{"alt":1.971,"ratio":0.997},{"alt":2.0,"ratio":1.001},{"alt":2.037,"ratio":1.002},{"alt":2.07,"ratio":0.999},{"alt":2.104,"ratio":1.0},{"alt":2.15,"ratio":0.997},{"alt":2.193,"ratio":0.998},{"alt":2.24,"ratio":0.999},{"alt":2.282,"ratio":0.997},{"alt":2.33,"ratio":0.995},
{"alt":2.371,"ratio":0.998},{"alt":2.41,"ratio":0.999},{"alt":2.46,"ratio":0.997},{"alt":2.5,"ratio":0.999},{"alt":2.55,"ratio":1.0},{"alt":2.58,"ratio":0.997},{"alt":2.616,"ratio":0.994},{"alt":2.65,"ratio":0.996},{"alt":2.683,"ratio":0.998},{"alt":2.72,"ratio":0.994},{"alt":2.772,"ratio":0.99},{"alt":2.82,"ratio":0.993},
{"alt":2.861,"ratio":0.995},{"alt":2.9,"ratio":0.996},{"alt":2.95,"ratio":0.994},{"alt":3.0,"ratio":0.993},{"alt":3.039,"ratio":0.995},{"alt":3.08,"ratio":0.992},{"alt":3.128,"ratio":0.992},{"alt":3.17,"ratio":0.99},{"alt":3.217,"ratio":0.984},{"alt":3.25,"ratio":0.99},{"alt":3.284,"ratio":0.994},{"alt":3.32,"ratio":0.992},
{"alt":3.351,"ratio":0.991},{"alt":3.39,"ratio":0.993},{"alt":3.418,"ratio":0.992},{"alt":3.45,"ratio":0.99},{"alt":3.485,"ratio":0.991},{"alt":3.53,"ratio":0.993},{"alt":3.574,"ratio":0.994},{"alt":3.62,"ratio":0.991},{"alt":3.663,"ratio":0.992},{"alt":3.7,"ratio":0.99},{"alt":3.73,"ratio":0.991},{"alt":3.76,"ratio":0.993},
{"alt":3.796,"ratio":0.995},{"alt":3.84,"ratio":0.996},{"alt":3.885,"ratio":0.997},{"alt":3.92,"ratio":0.999},{"alt":3.952,"ratio":1.0},{"alt":3.99,"ratio":0.998},{"alt":4.019,"ratio":0.997},{"alt":4.05,"ratio":0.999},{"alt":4.086,"ratio":0.998},{"alt":4.12,"ratio":0.997}
],
"ld97": [
{"alt":-0.1,"ratio":1.02},{"alt":-0.078,"ratio":1.022},{"alt":-0.055,"ratio":1.031},{"alt":-0.03,"ratio":1.024},{"alt":-0.011,"ratio":1.019},{"alt":0.02,"ratio":1.021},{"alt":0.056,"ratio":1.022},{"alt":0.09,"ratio":1.02},{"alt":0.123,"ratio":1.018},{"alt":0.16,"ratio":1.02},{"alt":0.189,"ratio":1.021},{"alt":0.22,"ratio":1.016},
{"alt":0.256,"ratio":1.011},{"alt":0.29,"ratio":1.016},{"alt":0.323,"ratio":1.019},{"alt":0.36,"ratio":1.022},{"alt":0.39,"ratio":1.021},{"alt":0.42,"ratio":1.019},{"alt":0.457,"ratio":1.018},{"alt":0.5,"ratio":1.02},{"alt":0.546,"ratio":1.021},{"alt":0.59,"ratio":1.018},{"alt":0.635,"ratio":1.019},{"alt":0.68,"ratio":1.021},
{"alt":0.724,"ratio":1.021},{"alt":0.77,"ratio":1.019},{"alt":0.813,"ratio":1.018},{"alt":0.86,"ratio":1.021},{"alt":0.902,"ratio":1.023},{"alt":0.95,"ratio":1.02},{"alt":0.991,"ratio":1.019},{"alt":1.025,"ratio":1.017},{"alt":1.058,"ratio":1.016},{"alt":1.09,"ratio":1.02},{"alt":1.125,"ratio":1.023},{"alt":1.17,"ratio":1.022},
{"alt":1.214,"ratio":1.021},{"alt":1.26,"ratio":1.019},{"alt":1.303,"ratio":1.018},{"alt":1.34,"ratio":1.015},{"alt":1.369,"ratio":1.012},{"alt":1.41,"ratio":1.014},{"alt":1.459,"ratio":1.016},{"alt":1.49,"ratio":1.018},{"alt":1.525,"ratio":1.018},{"alt":1.57,"ratio":1.016},{"alt":1.614,"ratio":1.014},{"alt":1.66,"ratio":1.018},
{"alt":1.703,"ratio":1.021},{"alt":1.75,"ratio":1.016},{"alt":1.793,"ratio":1.012},{"alt":1.83,"ratio":1.018},{"alt":1.859,"ratio":1.023},{"alt":1.89,"ratio":1.021},{"alt":1.926,"ratio":1.019},{"alt":1.97,"ratio":1.025},{"alt":2.015,"ratio":1.032},{"alt":2.05,"ratio":1.022},{"alt":2.082,"ratio":1.015},{"alt":2.11,"ratio":1.02},
{"alt":2.149,"ratio":1.025},{"alt":2.19,"ratio":1.027},{"alt":2.238,"ratio":1.028},{"alt":2.28,"ratio":1.03},{"alt":2.327,"ratio":1.031},{"alt":2.37,"ratio":1.029},{"alt":2.416,"ratio":1.029},{"alt":2.46,"ratio":1.03},{"alt":2.505,"ratio":1.028},{"alt":2.54,"ratio":1.026},{"alt":2.572,"ratio":1.025},{"alt":2.6,"ratio":1.023},
{"alt":2.639,"ratio":1.021},{"alt":2.67,"ratio":1.026},{"alt":2.705,"ratio":1.031},{"alt":2.74,"ratio":1.037},{"alt":2.772,"ratio":1.042},{"alt":2.8,"ratio":1.03},{"alt":2.817,"ratio":1.023},{"alt":2.85,"ratio":1.028},{"alt":2.883,"ratio":1.033},{"alt":2.92,"ratio":1.03},{"alt":2.95,"ratio":1.028},{"alt":2.99,"ratio":1.025},
{"alt":3.01,"ratio":1.045},{"alt":3.03,"ratio":1.076},{"alt":3.05,"ratio":1.05},{"alt":3.08,"ratio":1.028},{"alt":3.106,"ratio":1.028},{"alt":3.14,"ratio":1.018},{"alt":3.173,"ratio":1.011},{"alt":3.2,"ratio":1.018},{"alt":3.217,"ratio":1.025},{"alt":3.25,"ratio":1.027},{"alt":3.284,"ratio":1.028},{"alt":3.32,"ratio":1.022},
{"alt":3.351,"ratio":1.018},{"alt":3.39,"ratio":1.016},{"alt":3.418,"ratio":1.016},{"alt":3.45,"ratio":1.019},{"alt":3.485,"ratio":1.022},{"alt":3.52,"ratio":1.02},{"alt":3.551,"ratio":1.019},{"alt":3.59,"ratio":1.025},{"alt":3.618,"ratio":1.031},{"alt":3.65,"ratio":1.026},{"alt":3.685,"ratio":1.021},{"alt":3.72,"ratio":1.023},
{"alt":3.752,"ratio":1.025},{"alt":3.775,"ratio":1.035},{"alt":3.787,"ratio":1.049},{"alt":3.8,"ratio":1.03},{"alt":3.841,"ratio":1.011},{"alt":3.87,"ratio":1.012},{"alt":3.908,"ratio":1.014},{"alt":3.93,"ratio":1.018},{"alt":3.952,"ratio":1.022},{"alt":3.975,"ratio":1.005},{"alt":3.99,"ratio":0.986},{"alt":4.005,"ratio":1.005},
{"alt":4.02,"ratio":1.02},{"alt":4.041,"ratio":1.047},{"alt":4.055,"ratio":1.03},{"alt":4.064,"ratio":1.016},{"alt":4.09,"ratio":1.015},{"alt":4.108,"ratio":1.014},{"alt":4.13,"ratio":1.016}
],
"pt97": [
{"ratio":1.1,"alt":2.638,"label":"Same batch","c":"s"},{"ratio":1.127,"alt":2.245,"label":"20 profiles","c":"s"},{"ratio":1.1,"alt":1.369,"label":"Diff batches","c":"d"},{"ratio":1.128,"alt":0.99,"label":"11 profiles","c":"d"}
]
},
"bounds": "flush",
"columns": 2,
"spacing": {"row": 159, "column": 217.6},
"concat": [
{
"title": {"text": "Dual Sonde Launches from 1996 WVIOP", "anchor": "start", "frame": "group", "dx": 166, "offset": -15, "baseline": "alphabetic", "fontSize": 29.5, "fontWeight": "normal"},
"width": 400, "height": 317,
"resolve": {"axis": {"x": "independent", "y": "independent"}},
"layer": [
{"data": {"name": "d96"}, "mark": {"type": "circle", "size": 75, "opacity": 1, "color": "#000000", "clip": true},
 "encoding": {"x": {"field": "rh1", "type": "quantitative", "scale": {"domain": [0, 100], "nice": false, "zero": false}, "axis": {"orient": "bottom", "values": [0, 20, 40, 60, 80, 100], "format": "d", "tickSize": -8, "labelPadding": 24, "title": "RH (%) from Sonde 1", "titlePadding": 3}},
              "y": {"field": "rh2", "type": "quantitative", "scale": {"domain": [0, 100], "nice": false, "zero": false}, "axis": {"orient": "left", "values": [0, 20, 40, 60, 80, 100], "format": "d", "tickSize": -8, "labelPadding": 17, "labelFlush": true, "labelFlushOffset": 6, "title": "RH (%) from Sonde 2", "titlePadding": 23}}}},
{"data": {"name": "s96"}, "mark": {"type": "circle", "size": 75, "opacity": 1, "color": "#707070", "clip": true},
 "encoding": {"x": {"field": "rh1", "type": "quantitative", "scale": {"domain": [0, 100], "nice": false, "zero": false}, "axis": {"orient": "top", "values": [0, 20, 40, 60, 80, 100], "tickSize": -8, "labels": false, "title": null}},
              "y": {"field": "rh2", "type": "quantitative", "scale": {"domain": [0, 100], "nice": false, "zero": false}, "axis": {"orient": "right", "values": [0, 20, 40, 60, 80, 100], "tickSize": -8, "labels": false, "title": null}}}},
{"data": {"name": "fd96"}, "mark": {"type": "line", "color": "#000000", "strokeWidth": 1.5, "clip": true},
 "encoding": {"x": {"field": "rh1", "type": "quantitative", "scale": {"domain": [0, 100], "nice": false, "zero": false}, "axis": {"orient": "bottom", "values": [5, 10, 15, 25, 30, 35, 45, 50, 55, 65, 70, 75, 85, 90, 95], "tickSize": -4, "labels": false, "title": null}},
              "y": {"field": "rh2", "type": "quantitative", "scale": {"domain": [0, 100], "nice": false, "zero": false}, "axis": {"orient": "left", "values": [5, 10, 15, 25, 30, 35, 45, 50, 55, 65, 70, 75, 85, 90, 95], "tickSize": -4, "labels": false, "title": null}}}},
{"data": {"name": "fs96"}, "mark": {"type": "line", "color": "#707070", "strokeWidth": 1.5, "clip": true},
 "encoding": {"x": {"field": "rh1", "type": "quantitative", "scale": {"domain": [0, 100], "nice": false, "zero": false}, "axis": {"orient": "top", "values": [5, 10, 15, 25, 30, 35, 45, 50, 55, 65, 70, 75, 85, 90, 95], "tickSize": -4, "labels": false, "title": null}},
              "y": {"field": "rh2", "type": "quantitative", "scale": {"domain": [0, 100], "nice": false, "zero": false}, "axis": {"orient": "right", "values": [5, 10, 15, 25, 30, 35, 45, 50, 55, 65, 70, 75, 85, 90, 95], "tickSize": -4, "labels": false, "title": null}}}},
{"data": {"name": "t96"}, "mark": {"type": "text", "align": "left", "baseline": "middle", "fontSize": 18.5},
 "encoding": {"x": {"field": "rh1", "type": "quantitative", "axis": null}, "y": {"field": "rh2", "type": "quantitative", "axis": null}, "text": {"field": "label"},
              "color": {"field": "c", "type": "nominal", "scale": {"domain": ["s", "d"], "range": ["#777777", "#000000"]}, "legend": null}}}
]
},
{
"width": 400, "height": 317,
"resolve": {"axis": {"x": "independent", "y": "independent"}},
"layer": [
{"mark": {"type": "rule", "color": "#000000", "strokeWidth": 1},
 "encoding": {"x": {"datum": 1.0, "type": "quantitative", "scale": {"domain": [0.9, 1.2], "nice": false, "zero": false}, "axis": null}}},
{"data": {"name": "ebs96"}, "mark": {"type": "rule", "color": "#707070", "strokeWidth": 1, "clip": true},
 "encoding": {"x": {"field": "lo", "type": "quantitative", "scale": {"domain": [0.9, 1.2], "nice": false, "zero": false}, "axis": {"orient": "bottom", "values": [0.9, 1.0, 1.1, 1.2], "format": ".2f", "tickSize": -8, "labelPadding": 24, "title": "Ratio (RH1/RH2)", "titlePadding": 3}},
              "x2": {"field": "hi"},
              "y": {"field": "alt", "type": "quantitative", "scale": {"domain": [-0.1, 4.0], "nice": false, "zero": false}, "axis": {"orient": "left", "values": [0, 1, 2, 3, 4], "format": "d", "tickSize": -8, "labelPadding": 17, "title": "Altitude (km AGL)", "titlePadding": 22}}}},
{"data": {"name": "ebs96"}, "mark": {"type": "tick", "orient": "vertical", "size": 5, "thickness": 1, "color": "#707070", "clip": true},
 "encoding": {"x": {"field": "lo", "type": "quantitative", "scale": {"domain": [0.9, 1.2], "nice": false, "zero": false}, "axis": {"orient": "top", "values": [0.9, 1.0, 1.1, 1.2], "tickSize": -8, "labels": false, "title": null}},
              "y": {"field": "alt", "type": "quantitative", "scale": {"domain": [-0.1, 4.0], "nice": false, "zero": false}, "axis": {"orient": "right", "values": [0, 1, 2, 3, 4], "tickSize": -8, "labels": false, "title": null}}}},
{"data": {"name": "ebs96"}, "mark": {"type": "tick", "orient": "vertical", "size": 5, "thickness": 1, "color": "#707070", "clip": true},
 "encoding": {"x": {"field": "hi", "type": "quantitative", "scale": {"domain": [0.9, 1.2], "nice": false, "zero": false}, "axis": {"orient": "bottom", "values": [0.91, 0.92, 0.93, 0.94, 0.95, 0.96, 0.97, 0.98, 0.99, 1.01, 1.02, 1.03, 1.04, 1.05, 1.06, 1.07, 1.08, 1.09, 1.11, 1.12, 1.13, 1.14, 1.15, 1.16, 1.17, 1.18, 1.19], "tickSize": -4, "labels": false, "title": null}},
              "y": {"field": "alt", "type": "quantitative", "scale": {"domain": [-0.1, 4.0], "nice": false, "zero": false}, "axis": {"orient": "left", "values": [-0.1, 0.1, 0.2, 0.3, 0.4, 0.5, 0.6, 0.7, 0.8, 0.9, 1.1, 1.2, 1.3, 1.4, 1.5, 1.6, 1.7, 1.8, 1.9, 2.1, 2.2, 2.3, 2.4, 2.5, 2.6, 2.7, 2.8, 2.9, 3.1, 3.2, 3.3, 3.4, 3.5, 3.6, 3.7, 3.8, 3.9], "tickSize": -4, "labels": false, "title": null}}}},
{"data": {"name": "ebd96"}, "mark": {"type": "rule", "color": "#000000", "strokeWidth": 1, "clip": true},
 "encoding": {"x": {"field": "lo", "type": "quantitative", "scale": {"domain": [0.9, 1.2], "nice": false, "zero": false}, "axis": {"orient": "top", "values": [0.91, 0.92, 0.93, 0.94, 0.95, 0.96, 0.97, 0.98, 0.99, 1.01, 1.02, 1.03, 1.04, 1.05, 1.06, 1.07, 1.08, 1.09, 1.11, 1.12, 1.13, 1.14, 1.15, 1.16, 1.17, 1.18, 1.19], "tickSize": -4, "labels": false, "title": null}},
              "x2": {"field": "hi"},
              "y": {"field": "alt", "type": "quantitative", "scale": {"domain": [-0.1, 4.0], "nice": false, "zero": false}, "axis": {"orient": "right", "values": [-0.1, 0.1, 0.2, 0.3, 0.4, 0.5, 0.6, 0.7, 0.8, 0.9, 1.1, 1.2, 1.3, 1.4, 1.5, 1.6, 1.7, 1.8, 1.9, 2.1, 2.2, 2.3, 2.4, 2.5, 2.6, 2.7, 2.8, 2.9, 3.1, 3.2, 3.3, 3.4, 3.5, 3.6, 3.7, 3.8, 3.9], "tickSize": -4, "labels": false, "title": null}}}},
{"data": {"name": "ebd96"}, "mark": {"type": "tick", "orient": "vertical", "size": 5, "thickness": 1, "color": "#000000", "clip": true},
 "encoding": {"x": {"field": "lo", "type": "quantitative", "axis": null}, "y": {"field": "alt", "type": "quantitative", "axis": null}}},
{"data": {"name": "ebd96"}, "mark": {"type": "tick", "orient": "vertical", "size": 5, "thickness": 1, "color": "#000000", "clip": true},
 "encoding": {"x": {"field": "hi", "type": "quantitative", "axis": null}, "y": {"field": "alt", "type": "quantitative", "axis": null}}},
{"data": {"name": "ls96"}, "mark": {"type": "line", "color": "#6e6e6e", "strokeWidth": 3, "clip": true},
 "encoding": {"x": {"field": "ratio", "type": "quantitative", "axis": null}, "y": {"field": "alt", "type": "quantitative", "axis": null}, "order": {"field": "alt", "type": "quantitative"}}},
{"data": {"name": "ld96"}, "mark": {"type": "line", "color": "#000000", "strokeWidth": 3, "clip": true},
 "encoding": {"x": {"field": "ratio", "type": "quantitative", "axis": null}, "y": {"field": "alt", "type": "quantitative", "axis": null}, "order": {"field": "alt", "type": "quantitative"}}},
{"data": {"name": "pt96"}, "mark": {"type": "text", "align": "left", "baseline": "middle", "fontSize": 18.5},
 "encoding": {"x": {"field": "ratio", "type": "quantitative", "axis": null}, "y": {"field": "alt", "type": "quantitative", "axis": null}, "text": {"field": "label"},
              "color": {"field": "c", "type": "nominal", "scale": {"domain": ["s", "d"], "range": ["#777777", "#000000"]}, "legend": null}}}
]
},
{
"title": {"text": "Dual Sonde Launches from 1997 WVIOP", "anchor": "start", "frame": "group", "dx": 164, "offset": -14, "baseline": "alphabetic", "fontSize": 29.5, "fontWeight": "normal"},
"width": 400, "height": 317,
"resolve": {"axis": {"x": "independent", "y": "independent"}},
"layer": [
{"data": {"name": "d97"}, "mark": {"type": "circle", "size": 75, "opacity": 1, "color": "#000000", "clip": true},
 "encoding": {"x": {"field": "rh1", "type": "quantitative", "scale": {"domain": [0, 100], "nice": false, "zero": false}, "axis": {"orient": "bottom", "values": [0, 20, 40, 60, 80, 100], "format": "d", "tickSize": -8, "labelPadding": 24, "title": "RH (%) from Sonde 1", "titlePadding": 3}},
              "y": {"field": "rh2", "type": "quantitative", "scale": {"domain": [0, 100], "nice": false, "zero": false}, "axis": {"orient": "left", "values": [0, 20, 40, 60, 80, 100], "format": "d", "tickSize": -8, "labelPadding": 17, "labelFlush": true, "labelFlushOffset": 6, "title": "RH (%) from Sonde 2", "titlePadding": 23}}}},
{"data": {"name": "s97"}, "mark": {"type": "circle", "size": 75, "opacity": 1, "color": "#707070", "clip": true},
 "encoding": {"x": {"field": "rh1", "type": "quantitative", "scale": {"domain": [0, 100], "nice": false, "zero": false}, "axis": {"orient": "top", "values": [0, 20, 40, 60, 80, 100], "tickSize": -8, "labels": false, "title": null}},
              "y": {"field": "rh2", "type": "quantitative", "scale": {"domain": [0, 100], "nice": false, "zero": false}, "axis": {"orient": "right", "values": [0, 20, 40, 60, 80, 100], "tickSize": -8, "labels": false, "title": null}}}},
{"data": {"name": "fd97"}, "mark": {"type": "line", "color": "#000000", "strokeWidth": 1.5, "clip": true},
 "encoding": {"x": {"field": "rh1", "type": "quantitative", "scale": {"domain": [0, 100], "nice": false, "zero": false}, "axis": {"orient": "bottom", "values": [5, 10, 15, 25, 30, 35, 45, 50, 55, 65, 70, 75, 85, 90, 95], "tickSize": -4, "labels": false, "title": null}},
              "y": {"field": "rh2", "type": "quantitative", "scale": {"domain": [0, 100], "nice": false, "zero": false}, "axis": {"orient": "left", "values": [5, 10, 15, 25, 30, 35, 45, 50, 55, 65, 70, 75, 85, 90, 95], "tickSize": -4, "labels": false, "title": null}}}},
{"data": {"name": "fs97"}, "mark": {"type": "line", "color": "#707070", "strokeWidth": 1.5, "clip": true},
 "encoding": {"x": {"field": "rh1", "type": "quantitative", "scale": {"domain": [0, 100], "nice": false, "zero": false}, "axis": {"orient": "top", "values": [5, 10, 15, 25, 30, 35, 45, 50, 55, 65, 70, 75, 85, 90, 95], "tickSize": -4, "labels": false, "title": null}},
              "y": {"field": "rh2", "type": "quantitative", "scale": {"domain": [0, 100], "nice": false, "zero": false}, "axis": {"orient": "right", "values": [5, 10, 15, 25, 30, 35, 45, 50, 55, 65, 70, 75, 85, 90, 95], "tickSize": -4, "labels": false, "title": null}}}},
{"data": {"name": "t97"}, "mark": {"type": "text", "align": "left", "baseline": "middle", "fontSize": 18.5},
 "encoding": {"x": {"field": "rh1", "type": "quantitative", "axis": null}, "y": {"field": "rh2", "type": "quantitative", "axis": null}, "text": {"field": "label"},
              "color": {"field": "c", "type": "nominal", "scale": {"domain": ["s", "d"], "range": ["#777777", "#000000"]}, "legend": null}}}
]
},
{
"width": 400, "height": 317,
"resolve": {"axis": {"x": "independent", "y": "independent"}},
"layer": [
{"mark": {"type": "rule", "color": "#000000", "strokeWidth": 1},
 "encoding": {"x": {"datum": 1.0, "type": "quantitative", "scale": {"domain": [0.9, 1.2], "nice": false, "zero": false}, "axis": null}}},
{"data": {"name": "ebs97"}, "mark": {"type": "rule", "color": "#707070", "strokeWidth": 1, "clip": true},
 "encoding": {"x": {"field": "lo", "type": "quantitative", "scale": {"domain": [0.9, 1.2], "nice": false, "zero": false}, "axis": {"orient": "bottom", "values": [0.9, 1.0, 1.1, 1.2], "format": ".2f", "tickSize": -8, "labelPadding": 24, "title": "Ratio (RH1/RH2)", "titlePadding": 3}},
              "x2": {"field": "hi"},
              "y": {"field": "alt", "type": "quantitative", "scale": {"domain": [-0.1, 4.13], "nice": false, "zero": false}, "axis": {"orient": "left", "values": [0, 1, 2, 3, 4], "format": "d", "tickSize": -8, "labelPadding": 17, "title": "Altitude (km AGL)", "titlePadding": 22}}}},
{"data": {"name": "ebs97"}, "mark": {"type": "tick", "orient": "vertical", "size": 5, "thickness": 1, "color": "#707070", "clip": true},
 "encoding": {"x": {"field": "lo", "type": "quantitative", "scale": {"domain": [0.9, 1.2], "nice": false, "zero": false}, "axis": {"orient": "top", "values": [0.9, 1.0, 1.1, 1.2], "tickSize": -8, "labels": false, "title": null}},
              "y": {"field": "alt", "type": "quantitative", "scale": {"domain": [-0.1, 4.13], "nice": false, "zero": false}, "axis": {"orient": "right", "values": [0, 1, 2, 3, 4], "tickSize": -8, "labels": false, "title": null}}}},
{"data": {"name": "ebs97"}, "mark": {"type": "tick", "orient": "vertical", "size": 5, "thickness": 1, "color": "#707070", "clip": true},
 "encoding": {"x": {"field": "hi", "type": "quantitative", "scale": {"domain": [0.9, 1.2], "nice": false, "zero": false}, "axis": {"orient": "bottom", "values": [0.91, 0.92, 0.93, 0.94, 0.95, 0.96, 0.97, 0.98, 0.99, 1.01, 1.02, 1.03, 1.04, 1.05, 1.06, 1.07, 1.08, 1.09, 1.11, 1.12, 1.13, 1.14, 1.15, 1.16, 1.17, 1.18, 1.19], "tickSize": -4, "labels": false, "title": null}},
              "y": {"field": "alt", "type": "quantitative", "scale": {"domain": [-0.1, 4.13], "nice": false, "zero": false}, "axis": {"orient": "left", "values": [-0.1, 0.1, 0.2, 0.3, 0.4, 0.5, 0.6, 0.7, 0.8, 0.9, 1.1, 1.2, 1.3, 1.4, 1.5, 1.6, 1.7, 1.8, 1.9, 2.1, 2.2, 2.3, 2.4, 2.5, 2.6, 2.7, 2.8, 2.9, 3.1, 3.2, 3.3, 3.4, 3.5, 3.6, 3.7, 3.8, 3.9, 4.1], "tickSize": -4, "labels": false, "title": null}}}},
{"data": {"name": "ebd97"}, "mark": {"type": "rule", "color": "#000000", "strokeWidth": 1, "clip": true},
 "encoding": {"x": {"field": "lo", "type": "quantitative", "scale": {"domain": [0.9, 1.2], "nice": false, "zero": false}, "axis": {"orient": "top", "values": [0.91, 0.92, 0.93, 0.94, 0.95, 0.96, 0.97, 0.98, 0.99, 1.01, 1.02, 1.03, 1.04, 1.05, 1.06, 1.07, 1.08, 1.09, 1.11, 1.12, 1.13, 1.14, 1.15, 1.16, 1.17, 1.18, 1.19], "tickSize": -4, "labels": false, "title": null}},
              "x2": {"field": "hi"},
              "y": {"field": "alt", "type": "quantitative", "scale": {"domain": [-0.1, 4.13], "nice": false, "zero": false}, "axis": {"orient": "right", "values": [-0.1, 0.1, 0.2, 0.3, 0.4, 0.5, 0.6, 0.7, 0.8, 0.9, 1.1, 1.2, 1.3, 1.4, 1.5, 1.6, 1.7, 1.8, 1.9, 2.1, 2.2, 2.3, 2.4, 2.5, 2.6, 2.7, 2.8, 2.9, 3.1, 3.2, 3.3, 3.4, 3.5, 3.6, 3.7, 3.8, 3.9, 4.1], "tickSize": -4, "labels": false, "title": null}}}},
{"data": {"name": "ebd97"}, "mark": {"type": "tick", "orient": "vertical", "size": 5, "thickness": 1, "color": "#000000", "clip": true},
 "encoding": {"x": {"field": "lo", "type": "quantitative", "axis": null}, "y": {"field": "alt", "type": "quantitative", "axis": null}}},
{"data": {"name": "ebd97"}, "mark": {"type": "tick", "orient": "vertical", "size": 5, "thickness": 1, "color": "#000000", "clip": true},
 "encoding": {"x": {"field": "hi", "type": "quantitative", "axis": null}, "y": {"field": "alt", "type": "quantitative", "axis": null}}},
{"data": {"name": "ls97"}, "mark": {"type": "line", "color": "#6e6e6e", "strokeWidth": 3, "clip": true},
 "encoding": {"x": {"field": "ratio", "type": "quantitative", "axis": null}, "y": {"field": "alt", "type": "quantitative", "axis": null}, "order": {"field": "alt", "type": "quantitative"}}},
{"data": {"name": "ld97"}, "mark": {"type": "line", "color": "#000000", "strokeWidth": 3, "clip": true},
 "encoding": {"x": {"field": "ratio", "type": "quantitative", "axis": null}, "y": {"field": "alt", "type": "quantitative", "axis": null}, "order": {"field": "alt", "type": "quantitative"}}},
{"data": {"name": "pt97"}, "mark": {"type": "text", "align": "left", "baseline": "middle", "fontSize": 18.5},
 "encoding": {"x": {"field": "ratio", "type": "quantitative", "axis": null}, "y": {"field": "alt", "type": "quantitative", "axis": null}, "text": {"field": "label"},
              "color": {"field": "c", "type": "nominal", "scale": {"domain": ["s", "d"], "range": ["#777777", "#000000"]}, "legend": null}}}
]
}
]
}
